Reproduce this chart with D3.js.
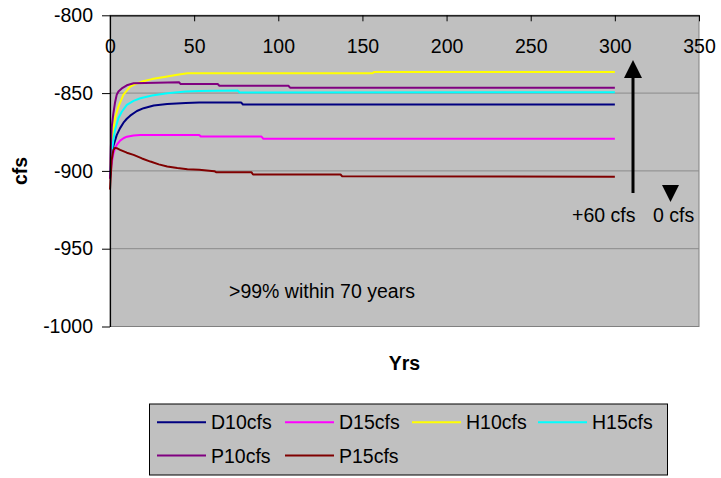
<!DOCTYPE html>
<html>
<head>
<meta charset="utf-8">
<script src="https://cdn.jsdelivr.net/npm/d3@7"></script>
<style>
  html, body { margin: 0; padding: 0; background: #ffffff; }
  svg { display: block; }
  text { font-family: "Liberation Sans", Arial, Helvetica, sans-serif; }
</style>
</head>
<body>
<svg id="chart" width="721" height="478"></svg>
<script>
// Series names and colours
const seriesNames = ["D10cfs", "D15cfs", "H10cfs", "H15cfs", "P10cfs", "P15cfs"];
const seriesColors = ["#000080", "#ff00ff", "#ffff00", "#00ffff", "#800080", "#800000"];

// Flow change over time (years, cfs) for each scenario
const d10Years  = [0, 1, 2, 4, 6, 8, 10, 12, 16, 20, 26, 34, 45, 53, 78, 79, 300];
const d10Values = [-903, -892, -884, -877, -872.5, -869, -866.5, -864.5, -861.5, -859.7, -858, -857, -856.3, -856.1, -856.1, -857.3, -857.4];

const d15Years  = [0, 1, 2, 3, 4, 6, 8, 10, 14, 18, 53, 54, 90, 91, 300];
const d15Values = [-905, -895, -889, -885.5, -883.3, -880.5, -879, -878, -877.2, -876.9, -876.9, -877.9, -877.9, -879.3, -879.3];

const h10Years  = [0, 1, 2, 3, 5, 8, 12, 16, 19, 25, 34, 40, 46, 156, 157, 300];
const h10Values = [-902, -885, -873.7, -866, -858.7, -851, -845.9, -843.8, -842.6, -841, -839.4, -838.2, -837.3, -837.3, -836.4, -836.4];

const h15Years  = [0, 1, 2, 3, 5, 7, 10, 14, 18, 25, 34, 45, 53, 76, 77, 300];
const h15Values = [-903, -888, -880, -873.5, -866.2, -862, -857.6, -855, -853.3, -851.5, -850.1, -849, -848.6, -848.4, -849.6, -849.5];

const p10Years  = [0, 0.5, 1, 2, 3, 4, 5, 7, 10, 14, 41, 42, 64, 65, 106, 107, 300];
const p10Values = [-905, -885, -872, -863, -856, -851, -849, -847, -845, -843.7, -843, -844.2, -844.2, -845.3, -845.3, -846.5, -846.5];

const p15Years  = [0, 1, 2, 3, 4, 6, 10, 14, 19, 24, 29, 34, 40, 46, 53, 62, 63, 84, 85, 137, 138, 300];
const p15Values = [-912, -893, -886.5, -885.2, -885.4, -886.5, -888.3, -889.7, -892, -894, -895.8, -897.2, -898.2, -898.9, -899.3, -900.2, -900.8, -900.8, -902.3, -902.3, -903.5, -903.7];

const seriesYears  = [d10Years, d15Years, h10Years, h15Years, p10Years, p15Years];
const seriesValues = [d10Values, d15Values, h10Values, h15Values, p10Values, p15Values];

// Axis ticks
const xTicks = [0, 50, 100, 150, 200, 250, 300, 350];
const yTicks = [-800, -850, -900, -950, -1000];
const gridValues = [-850, -900, -950];

// Text
const xTitle = "Yrs";
const yTitle = "cfs";
const noteText = ">99% within 70 years";
const upLabel = "+60 cfs";
const zeroLabel = "0 cfs";

const svg = d3.select("#chart");
const plot = { left: 110, right: 699, top: 15.3, bottom: 326.5 };
const fontSize = 19.5;
const plain = d => String(d);

const x = d3.scaleLinear().domain([0, 350]).range([plot.left, plot.right]);
const y = d3.scaleLinear().domain([-1000, -800]).range([plot.bottom, plot.top]);

// Plot area
svg.append("rect")
  .attr("x", plot.left).attr("y", plot.top)
  .attr("width", plot.right - plot.left).attr("height", plot.bottom - plot.top)
  .attr("fill", "#c0c0c0").attr("stroke", "#808080").attr("stroke-width", 1);

// Horizontal gridlines
svg.append("g").selectAll("line").data(gridValues).join("line")
  .attr("x1", plot.left).attr("x2", plot.right)
  .attr("y1", d => y(d)).attr("y2", d => y(d))
  .attr("stroke", "#8a8a8a").attr("stroke-width", 1);

// Series lines
const line = d3.line().x(d => x(d[0])).y(d => y(d[1]));
seriesNames.forEach((name, i) => {
  const pts = seriesYears[i].map((yr, j) => [yr, seriesValues[i][j]]);
  svg.append("path").datum(pts)
    .attr("d", line)
    .attr("fill", "none")
    .attr("stroke", seriesColors[i])
    .attr("stroke-width", 2)
    .attr("stroke-linejoin", "round");
});

// Y axis (left)
const yAxis = svg.append("g")
  .attr("transform", `translate(${plot.left},0)`)
  .call(d3.axisLeft(y).tickValues(yTicks).tickFormat(plain).tickSize(8).tickPadding(9).tickSizeOuter(0));
yAxis.selectAll("text").attr("font-size", fontSize).attr("fill", "#000")
  .style("font-family", "'Liberation Sans', Arial, sans-serif");
yAxis.select(".domain").attr("stroke", "#000").attr("stroke-width", 1.2);

// X axis along the top edge, labels inside the plot
const xAxis = svg.append("g")
  .attr("transform", `translate(0,${plot.top})`)
  .call(d3.axisBottom(x).tickValues(xTicks).tickFormat(plain).tickSize(6).tickPadding(18).tickSizeOuter(0));
xAxis.selectAll("text").attr("font-size", fontSize).attr("fill", "#000")
  .style("font-family", "'Liberation Sans', Arial, sans-serif");
xAxis.select(".domain").attr("stroke", "#000").attr("stroke-width", 1.2);

// Axis titles
svg.append("text")
  .attr("transform", `translate(27,${(plot.top + plot.bottom) / 2}) rotate(-90)`)
  .attr("text-anchor", "middle")
  .attr("font-size", fontSize).attr("font-weight", "bold")
  .text(yTitle);
svg.append("text")
  .attr("x", (plot.left + plot.right) / 2).attr("y", 370)
  .attr("text-anchor", "middle")
  .attr("font-size", fontSize).attr("font-weight", "bold")
  .text(xTitle);

// Note inside the plot
svg.append("text")
  .attr("x", 229).attr("y", 297.5)
  .attr("font-size", fontSize)
  .text(noteText);

// Up arrow (+60 cfs)
svg.append("line")
  .attr("x1", 633).attr("x2", 633).attr("y1", 193).attr("y2", 76)
  .attr("stroke", "#000").attr("stroke-width", 3);
svg.append("path")
  .attr("d", "M633,60 L624,78 L642,78 Z")
  .attr("fill", "#000");
// Down marker (0 cfs)
svg.append("path")
  .attr("d", "M662,185 L679,185 L670.5,202 Z")
  .attr("fill", "#000");
svg.append("text").attr("x", 572).attr("y", 222).attr("font-size", fontSize).text(upLabel);
svg.append("text").attr("x", 653).attr("y", 222).attr("font-size", fontSize).text(zeroLabel);

// Legend
const legend = svg.append("g");
legend.append("rect")
  .attr("x", 149.5).attr("y", 404).attr("width", 518).attr("height", 71)
  .attr("fill", "#c0c0c0").attr("stroke", "#000").attr("stroke-width", 1);
const colX = [157, 285, 412, 538];
const rowY = [422.3, 455.5];
seriesNames.forEach((name, i) => {
  const cx = colX[i % 4];
  const cy = rowY[Math.floor(i / 4)];
  legend.append("line")
    .attr("x1", cx).attr("x2", cx + 49)
    .attr("y1", cy).attr("y2", cy)
    .attr("stroke", seriesColors[i]).attr("stroke-width", 2);
  legend.append("text")
    .attr("x", cx + 54).attr("y", cy + 7)
    .attr("font-size", fontSize)
    .text(name);
});
</script>
</body>
</html>
